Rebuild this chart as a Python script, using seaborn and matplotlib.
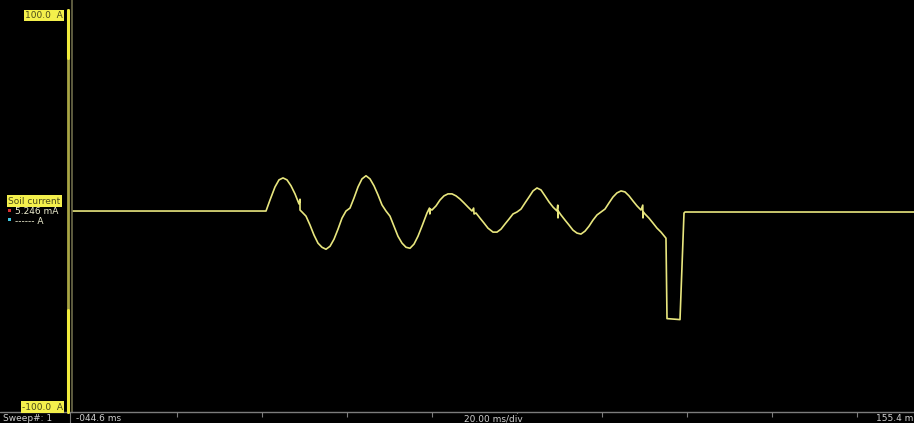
import numpy as np
import pandas as pd
import seaborn as sns
import matplotlib.pyplot as plt
from matplotlib.lines import Line2D
from matplotlib.patches import Rectangle

# soil current record (ms, A)
time_ms = [-44.6, 1.05, 1.99, 3.16, 4.10, 5.05, 5.99, 6.93, 7.87, 8.81, 9.05, 9.05, 9.52,
           10.46, 11.40, 12.34, 13.28, 14.22, 15.16, 16.11, 17.05, 17.99, 18.93, 19.87,
           20.81, 21.75, 22.69, 23.63, 24.58, 25.52, 26.46, 27.40, 28.34, 29.28, 30.22,
           31.16, 32.10, 33.05, 33.99, 34.93, 35.87, 36.81, 37.75, 38.93, 39.5, 39.6, 39.7,
           40.10, 41.05, 41.99, 42.93, 43.87, 44.81, 45.75, 46.69, 47.64, 48.58, 49.52,
           49.9, 50.0, 50.46, 51.40, 52.34, 53.28, 54.46, 55.40, 56.34, 57.28, 58.22,
           59.16, 60.10, 61.05, 61.99, 62.93, 63.87, 64.81, 65.75, 66.69, 67.64, 68.58,
           69.52, 69.7, 69.75, 69.8, 70.46, 71.40, 72.34, 73.28, 74.22, 75.16, 76.11,
           77.05, 77.99, 78.93, 79.87, 80.81, 81.75, 82.69, 83.63, 84.58, 85.52, 86.46,
           87.40, 88.34, 89.28, 89.7, 89.75, 89.85, 90.22, 91.16, 92.10, 93.05, 93.99,
           95.16, 95.40, 98.46, 99.40, 99.64, 155.4]
current_a = [0.0, 0.0, 5.6, 12.2, 15.8, 16.8, 15.8, 12.8, 8.7, 3.6, 6.0, 0.5, -0.5,
             -2.6, -7.1, -12.2, -16.3, -18.4, -19.4, -17.9, -14.3, -9.2, -3.6, 0.0,
             1.5, 6.6, 12.2, 16.3, 17.9, 16.3, 12.8, 8.2, 3.1, 0.0, -2.6,
             -7.7, -12.8, -16.3, -18.4, -18.9, -16.8, -12.8, -7.7, -1.0, 1.5, -1.5, 1.0,
             0.5, 2.6, 5.6, 7.7, 8.7, 8.7, 7.7, 6.1, 4.1, 2.0, 0.0,
             1.5, -1.5, -1.0, -3.6, -6.1, -8.7, -10.7, -10.7, -9.2, -6.6, -4.1,
             -1.5, -0.5, 1.0, 4.1, 7.1, 10.2, 11.7, 10.7, 7.7, 4.6, 2.0,
             0.0, 3.0, -3.5, 0.0, -2.0, -4.6, -7.1, -9.7, -11.2, -11.7, -10.2,
             -7.7, -4.6, -2.0, -0.5, 1.0, 4.1, 7.1, 9.2, 10.2, 9.7, 7.7,
             5.1, 2.6, 0.5, 3.0, -3.5, -0.5, -1.5, -3.6, -6.1, -8.7, -10.7,
             -13.8, -54.6, -55.1, -1.0, -0.5, -0.5]

tick_ms = [-20, 0, 20, 40, 60, 80, 100, 120, 140]
x_range = (-44.6, 155.4)
y_range = (-102.0, 107.1)

W, H = 914, 423
def fx(x):
    return x / W
def fy(y):
    return 1 - y / H

sns.set_style('dark', {'axes.facecolor': 'black', 'figure.facecolor': 'black'})
plt.rcParams['font.family'] = ['DejaVu Sans']

trace_color = '#e8e67e'
label_bg = '#f4f04c'
grey = '#7c7c7c'

fig = plt.figure(figsize=(9.14, 4.23), dpi=100, facecolor='black')
ax = fig.add_axes([fx(72), 11 / H, (922 - 72) / W, 412 / H])

df = pd.DataFrame({'t': time_ms, 'i': current_a})
sns.lineplot(data=df, x='t', y='i', ax=ax, color=trace_color, linewidth=1.2,
             estimator=None, sort=False)

ax.set_xlim(*x_range)
ax.set_ylim(*y_range)
ax.set_xticks(tick_ms)
ax.set_yticks([])
ax.tick_params(axis='x', bottom=True, length=3.5, width=0.8, color=grey,
               direction='out', labelbottom=False)
ax.set_xlabel('')
ax.set_ylabel('')
ax.grid(False)
for s in ['top', 'right']:
    ax.spines[s].set_visible(False)
ax.spines['bottom'].set_color(grey)
ax.spines['bottom'].set_linewidth(1.0)
ax.spines['left'].set_color('#6e6c4a')
ax.spines['left'].set_linewidth(1.2)

# bottom separator over the left panel + sweep divider
fig.add_artist(Line2D([fx(0), fx(72)], [fy(412), fy(412)], transform=fig.transFigure,
                      color=grey, lw=1.0))
fig.add_artist(Line2D([fx(70), fx(70)], [fy(412), fy(423)], transform=fig.transFigure,
                      color=grey, lw=0.8))

# channel scale bar
fig.add_artist(Line2D([fx(67.5), fx(67.5)], [fy(10), fy(412)], transform=fig.transFigure,
                      color='#a8a444', lw=2.0))
fig.add_artist(Line2D([fx(67.5), fx(67.5)], [fy(10), fy(58)], transform=fig.transFigure,
                      color='#f0ec3c', lw=2.2))
fig.add_artist(Line2D([fx(67.5), fx(67.5)], [fy(310), fy(412)], transform=fig.transFigure,
                      color='#f0ec3c', lw=2.2))

lab = dict(fontsize=6.5, color='#4a4a1a', va='center',
           bbox=dict(facecolor=label_bg, edgecolor='none', boxstyle='square,pad=0.15'))
fig.text(fx(63), fy(15.5), '100.0  A', ha='right', **lab)
fig.text(fx(63), fy(407), '-100.0  A', ha='right', **lab)
fig.text(fx(8), fy(201), 'Soil current', ha='left', **lab)

fig.add_artist(Rectangle((fx(8), fy(212)), 3 / W, 3 / H, transform=fig.transFigure,
                         facecolor='#d83030', edgecolor='none'))
fig.add_artist(Rectangle((fx(8), fy(221)), 3 / W, 3 / H, transform=fig.transFigure,
                         facecolor='#40c8e0', edgecolor='none'))
fig.text(fx(15), fy(212), '5.246 mA', ha='left', va='center', fontsize=6.5, color='#eeeed0')
fig.text(fx(15), fy(221), '------ A', ha='left', va='center', fontsize=6.5, color='#eeeed0')

foot = dict(fontsize=6.5, color='#cfcfcf', va='center')
fig.text(fx(3), fy(418), 'Sweep#: 1', ha='left', **foot)
fig.text(fx(76), fy(418), '-044.6 ms', ha='left', **foot)
fig.text(fx(493), fy(418.5), '20.00 ms/div', ha='center', zorder=5,
         bbox=dict(facecolor='black', edgecolor='none', boxstyle='square,pad=0.02'), **foot)
fig.text(fx(913), fy(418), '155.4 m', ha='right', **foot)

fig.savefig('out.png', dpi=100, facecolor='black')
